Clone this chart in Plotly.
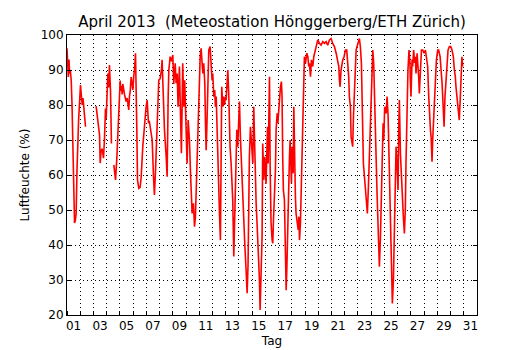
import plotly.graph_objects as go

# Time in days since 1 April 2013 00:00 (None = gap in the record)
tag = [
    0.00, 0.05, 0.10, 0.15, 0.20, 0.25, 0.32, 0.38, 0.44, 0.50, 0.57, 0.63, 0.69, 0.76, 0.82, 0.88,
    0.94, 1.02, 1.08, 1.15, 1.21, 1.27, 1.33, 1.40, None,
    2.20, 2.30, 2.40, 2.46, 2.51, 2.58, 2.66, 2.72, 2.76, 2.83, 2.91, 2.96, 3.01, 3.09, 3.15, 3.21,
    3.29, 3.36, None,
    3.54, 3.60, 3.67, 3.77, 3.85, 3.92, 4.02, 4.07, 4.12, 4.17, 4.22, 4.35, 4.47, 4.55, 4.67, 4.72,
    4.78, 4.85, 4.92, 4.98, 5.04, 5.10, 5.18, 5.23, 5.28, 5.33, 5.38, 5.43, 5.53, 5.61, 5.73, 5.86,
    5.98, 6.06, 6.16, 6.22, 6.29, 6.36, 6.44, 6.54, 6.61, 6.69, 6.79, 6.87, 6.94, 7.04, 7.14, 7.19,
    7.24, 7.32, 7.37, 7.50, 7.57, 7.65, 7.70, 7.80, 7.90, 8.00, 8.07, 8.18, 8.25, 8.33, 8.40, 8.50,
    8.58, 8.65, 8.75, 8.83, 8.90, 9.01, 9.08, 9.16, 9.26, 9.33, 9.41, 9.46, 9.56, 9.64, 9.71, 9.81,
    9.89, 9.96, 10.02, 10.07, 10.14, 10.22, 10.27, 10.34, 10.42, 10.47, 10.52, 10.57, 10.62, 10.67,
    10.72, 10.82, 10.90, 10.97, 11.02, 11.10, 11.17, 11.22, 11.28, 11.35, 11.43, 11.53, 11.60, 11.65,
    11.70, 11.78, 11.83, 11.91, 11.98, 12.03, 12.11, 12.16, 12.23, 12.28, 12.33, 12.41, 12.48, 12.53,
    12.61, 12.69, 12.74, 12.84, 12.91, 12.99, 13.04, 13.11, 13.19, 13.24, 13.29, 13.37, 13.44, 13.54,
    13.62, 13.69, 13.74, 13.79, 13.87, 13.95, 14.05, 14.12, 14.20, 14.30, 14.37, 14.45, 14.55, 14.60,
    14.65, 14.70, 14.75, 14.80, 14.88, 14.95, 15.05, 15.16, 15.21, 15.26, 15.31, 15.36, 15.43, 15.51,
    15.56, 15.61, 15.68, 15.76, 15.81, 15.89, 15.94, 16.01, 16.06, 16.14, 16.21, 16.26, 16.31, 16.36,
    16.44, 16.51, 16.57, 16.62, 16.69, 16.77, 16.82, 16.87, 16.92, 16.97, 17.02, 17.10, 17.15, 17.20,
    17.27, 17.32, 17.40, 17.48, 17.53, 17.58, 17.65, 17.70, 17.75, 17.83, 17.90, 17.95, 18.03, 18.13,
    18.21, 18.28, 18.33, 18.41, 18.48, 18.58, 18.66, 18.73, 18.83, 18.96, 19.09, 19.21, 19.34, 19.46,
    19.59, 19.71, 19.84, 19.97, 20.09, 20.22, 20.35, 20.47, 20.55, 20.60, 20.65, 20.72, 20.85, 20.95,
    21.05, 21.15, 21.23, 21.30, 21.35, 21.43, 21.48, 21.55, 21.60, 21.66, 21.73, 21.81, 21.86, 21.93,
    22.01, 22.11, 22.18, 22.26, 22.31, 22.36, 22.41, 22.49, 22.56, 22.64, 22.71, 22.79, 22.86, 22.94,
    22.99, 23.04, 23.12, 23.19, 23.24, 23.32, 23.37, 23.45, 23.50, 23.57, 23.62, 23.70, 23.77, 23.82,
    23.90, 23.95, 24.02, 24.13, 24.20, 24.28, 24.33, 24.38, 24.45, 24.53, 24.60, 24.68, 24.73, 24.80,
    24.88, 24.95, 25.03, 25.08, 25.13, 25.21, 25.28, 25.36, 25.43, 25.51, 25.58, 25.63, 25.71, 25.78,
    25.86, 25.93, 25.96, 26.01, 26.09, 26.14, 26.21, 26.29, 26.34, 26.39, 26.47, 26.54, 26.59, 26.64,
    26.72, 26.80, 26.90, 27.00, 27.10, 27.20, 27.27, 27.35, 27.40, 27.48, 27.53, 27.60, 27.65, 27.70,
    27.78, 27.86, 27.93, 28.03, 28.10, 28.21, 28.28, 28.36, 28.43, 28.51, 28.58, 28.66, 28.74, 28.81,
    28.91, 29.01, 29.11, 29.21, 29.29, 29.36, 29.41, 29.49, 29.56, 29.66, 29.74, 29.79, 29.86, 29.91,
]

# Relative humidity (%)
feuchte = [
    96.2, 92.0, 88.0, 93.0, 89.0, 90.0, 87.0, 80.0, 71.0, 58.0, 46.3, 47.0, 49.0, 62.0, 71.0, 76.0,
    80.0, 85.7, 83.0, 80.0, 82.0, 79.0, 77.0, 73.8, None,
    79.7, 76.0, 72.0, 71.4, 63.4, 67.0, 67.5, 65.0, 64.8, 70.0, 79.0, 76.0, 81.0, 89.0, 85.0, 91.4,
    84.0, 69.0, None,
    62.9, 60.0, 58.6, 65.0, 72.0, 79.0, 87.0, 84.0, 85.5, 83.0, 86.0, 83.0, 81.0, 82.0, 78.6, 82.4,
    84.0, 88.0, 85.0, 84.3, 88.0, 90.0, 94.8, 87.0, 72.9, 58.6, 57.0, 56.2, 56.5, 59.5, 68.1, 74.8,
    79.5, 81.4, 74.8, 75.5, 73.8, 72.9, 70.0, 59.5, 54.3, 61.0, 72.9, 78.6, 87.1, 87.5, 90.0, 92.9,
    87.0, 82.0, 72.9, 65.2, 59.5, 82.4, 90.0, 93.8, 92.5, 94.3, 86.0, 91.9, 86.2, 89.0, 79.5, 91.0,
    73.8, 66.2, 91.9, 79.5, 87.1, 72.9, 63.3, 75.7, 70.0, 61.4, 55.7, 49.0, 51.9, 45.2, 48.0, 60.5,
    74.8, 80.0, 91.9, 93.8, 96.2, 93.0, 89.0, 91.9, 86.0, 74.8, 67.1, 72.9, 82.4, 89.0,
    95.7, 96.7, 91.9, 87.0, 89.0, 82.4, 84.3, 79.5, 82.4, 70.9, 58.6, 49.0, 41.4, 77.6,
    85.2, 79.5, 82.4, 80.0, 82.4, 81.4, 88.0, 90.0, 83.0, 72.9, 68.0, 63.3, 56.0, 53.0,
    36.7, 49.0, 63.3, 72.9, 68.1, 78.6, 81.0, 71.0, 63.3, 55.0, 53.8, 44.3, 40.5, 32.9,
    26.2, 34.5, 55.7, 65.2, 73.8, 70.0, 63.3, 79.5, 62.4, 51.9, 46.2, 39.5, 30.0, 21.4,
    27.0, 32.9, 42.4, 69.0, 58.6, 65.2, 57.5, 73.8, 63.3, 75.7, 88.1, 62.0, 46.2, 41.4,
    40.5, 47.0, 53.8, 61.4, 72.9, 77.6, 74.8, 79.5, 82.4, 85.2, 86.7, 82.4, 65.2, 55.7,
    52.9, 40.5, 27.1, 32.9, 48.1, 58.6, 65.2, 70.0, 63.3, 57.6, 68.1, 60.5, 79.5, 65.2,
    53.8, 49.0, 47.1, 44.3, 48.1, 41.4, 46.2, 55.7, 61.4, 74.8, 91.0, 93.8, 91.9, 94.8,
    93.8, 91.0, 91.9, 88.1, 92.9, 91.0, 93.8, 94.8, 96.7, 98.6, 97.6, 97.1, 98.1, 97.6,
    98.1, 97.1, 98.6, 99.0, 97.6, 96.7, 94.8, 91.9, 91.0, 87.1, 85.2, 90.0, 92.9, 93.8,
    95.7, 95.7, 91.9, 88.1, 82.4, 79.5, 70.9, 69.0, 68.1, 76.7, 82.4, 90.0, 95.7, 96.7,
    97.6, 99.0, 96.7, 91.9, 82.4, 72.9, 63.3, 59.5, 55.7, 53.8, 49.0, 56.7, 65.2, 71.0,
    82.4, 90.0, 95.7, 91.9, 86.2, 74.8, 65.2, 53.8, 46.2, 39.5, 33.8, 42.4, 53.8, 63.3,
    74.8, 70.0, 79.5, 77.6, 82.4, 76.7, 68.1, 53.8, 40.5, 30.9, 23.3, 29.9, 39.5, 56.2,
    68.1, 63.3, 55.7, 72.9, 81.4, 66.2, 58.6, 52.9, 48.1, 43.3, 50.0, 63.3, 82.4, 90.0,
    95.7, 91.9, 87.0, 82.4, 93.0, 91.0, 95.7, 92.0, 93.8, 89.0, 94.8, 92.0, 88.0, 83.3,
    90.0, 95.7, 95.7, 94.8, 95.7, 92.9, 91.0, 82.4, 76.7, 72.9, 70.9, 63.8, 70.0, 74.8,
    80.5, 87.1, 92.9, 95.7, 95.7, 93.8, 91.0, 86.2, 80.5, 73.8, 82.4, 87.1, 93.8, 95.7,
    96.7, 96.7, 95.7, 93.8, 90.0, 88.1, 85.2, 81.4, 78.6, 75.7, 82.4, 90.0, 93.8, 91.0,
]

# Day labels placed at the middle of each odd day
tick_pos = [0.5 + 2 * k for k in range(16)]
tick_text = ["%02d" % (1 + 2 * k) for k in range(16)]
day_bounds = list(range(0, 32))
y_ticks = [20, 30, 40, 50, 60, 70, 80, 90, 100]

fig = go.Figure()
fig.add_trace(go.Scatter(
    x=tag, y=feuchte, mode="lines",
    line=dict(color="#ff0000", width=1.6),
    connectgaps=False, hoverinfo="skip",
))

# The page body adds an 8px margin, so the figure is sized 522x342
W, H = 522, 342
dots = "1px,3px"
fig.update_layout(
    width=W, height=H,
    margin=dict(l=59, r=53, t=27, b=35, autoexpand=False),
    plot_bgcolor="white", paper_bgcolor="white",
    font=dict(family="DejaVu Sans", size=12, color="black"),
    showlegend=False,
    title=dict(
        text="April 2013  (Meteostation Hönggerberg/ETH Zürich)",
        font=dict(size=15, family="DejaVu Sans", color="black"),
        x=264 / W, xref="container", xanchor="center",
        y=1 - 14 / H, yref="container", yanchor="middle",
        automargin=False,
    ),
    xaxis=dict(
        range=[0, 31], tickmode="array", tickvals=tick_pos, ticktext=tick_text,
        ticks="", showgrid=False, zeroline=False, automargin=False,
        showline=True, linecolor="black", linewidth=1, mirror=True,
        tickfont=dict(size=12),
        minor=dict(tickmode="array", tickvals=day_bounds, ticks="inside", ticklen=4,
                   tickcolor="black", showgrid=True, gridcolor="black",
                   griddash=dots, gridwidth=1),
        title=dict(text="Tag", font=dict(size=12), standoff=4),
    ),
    yaxis=dict(
        range=[20, 100], tickmode="array", tickvals=y_ticks,
        ticks="inside", ticklen=4, tickcolor="black",
        showgrid=True, gridcolor="black", griddash=dots, gridwidth=1,
        zeroline=False, showline=True, linecolor="black", linewidth=1, mirror="ticks",
        tickfont=dict(size=12), automargin=False,
        title=dict(text="Luftfeuchte (%)", font=dict(size=12), standoff=8),
    ),
)

fig.write_html("out.html")
